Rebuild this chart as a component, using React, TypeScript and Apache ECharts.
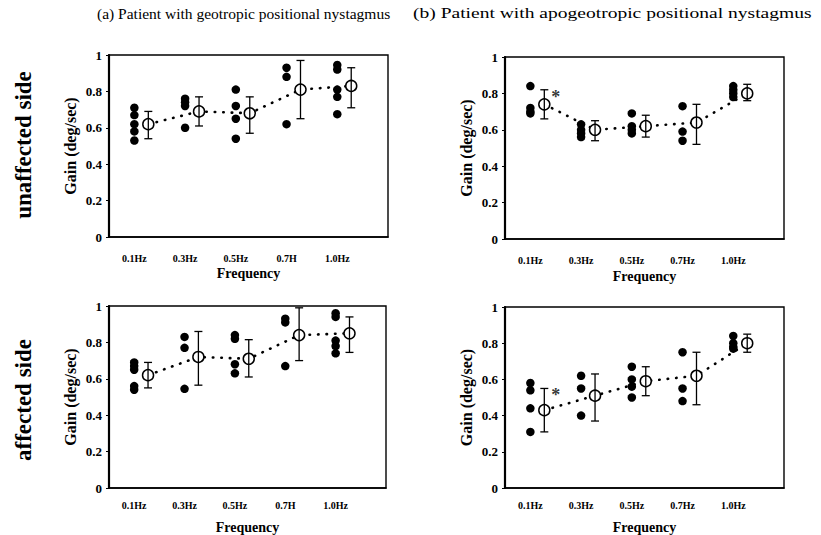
import React, { useEffect, useRef } from "react";
import * as echarts from "echarts";

// ---------- data ----------
const categoriesLeft = ["0.1Hz", "0.3Hz", "0.5Hz", "0.7H", "1.0Hz"];
const categoriesRight = ["0.1Hz", "0.3Hz", "0.5Hz", "0.7Hz", "1.0Hz"];

// (a) geotropic – unaffected side
const aUnaffectedDots = [
  [0.71, 0.67, 0.62, 0.58, 0.53],
  [0.76, 0.74, 0.72, 0.6],
  [0.81, 0.72, 0.65, 0.54],
  [0.93, 0.88, 0.62],
  [0.945, 0.92, 0.81, 0.77, 0.675],
];
const aUnaffectedMean = [0.62, 0.69, 0.68, 0.81, 0.83];
const aUnaffectedLow = [0.54, 0.61, 0.57, 0.65, 0.71];
const aUnaffectedHigh = [0.69, 0.77, 0.77, 0.97, 0.93];

// (b) apogeotropic – unaffected side
const bUnaffectedDots = [
  [0.84, 0.72, 0.7, 0.69],
  [0.63, 0.6, 0.58, 0.56],
  [0.69, 0.62, 0.6, 0.58],
  [0.73, 0.59, 0.54],
  [0.84, 0.82, 0.8, 0.78],
];
const bUnaffectedMean = [0.74, 0.6, 0.62, 0.64, 0.8];
const bUnaffectedLow = [0.66, 0.54, 0.56, 0.52, 0.76];
const bUnaffectedHigh = [0.82, 0.65, 0.68, 0.74, 0.85];
const bUnaffectedStar = [[0, 0.8]];

// (a) geotropic – affected side
const aAffectedDots = [
  [0.69, 0.67, 0.65, 0.56, 0.54],
  [0.83, 0.77, 0.545],
  [0.84, 0.82, 0.68, 0.63],
  [0.93, 0.91, 0.67],
  [0.96, 0.94, 0.81, 0.78, 0.74],
];
const aAffectedMean = [0.62, 0.72, 0.71, 0.84, 0.85];
const aAffectedLow = [0.55, 0.565, 0.61, 0.7, 0.745];
const aAffectedHigh = [0.69, 0.86, 0.815, 0.99, 0.94];

// (b) apogeotropic – affected side
const bAffectedDots = [
  [0.58, 0.54, 0.44, 0.31],
  [0.62, 0.55, 0.4],
  [0.67, 0.6, 0.56, 0.5],
  [0.75, 0.55, 0.48],
  [0.84, 0.8, 0.78, 0.77],
];
const bAffectedMean = [0.43, 0.51, 0.59, 0.62, 0.8];
const bAffectedLow = [0.31, 0.37, 0.51, 0.46, 0.75];
const bAffectedHigh = [0.55, 0.63, 0.67, 0.75, 0.85];
const bAffectedStar = [[0, 0.535]];

const titleA = "(a) Patient with geotropic positional nystagmus";
const titleB = "(b) Patient with apogeotropic positional nystagmus";
const rowTop = "unaffected side";
const rowBottom = "affected side";
const yName = "Gain (deg/sec)";
const xName = "Frequency";

// ---------- layout ----------
const FONT = '"Liberation Serif", "Times New Roman", serif';
const MEAN_OFFSET = 0.55;

type Panel = {
  cats: string[];
  dots: number[][];
  mean: number[];
  low: number[];
  high: number[];
  star?: number[][];
  grid: { left: number; top: number; width: number; height: number };
  labelMargin: number;
  nameGap: number;
};

const panels: Panel[] = [
  {
    cats: categoriesLeft, dots: aUnaffectedDots, mean: aUnaffectedMean,
    low: aUnaffectedLow, high: aUnaffectedHigh,
    grid: { left: 109, top: 55, width: 279, height: 182 }, labelMargin: 16, nameGap: 29,
  },
  {
    cats: categoriesRight, dots: bUnaffectedDots, mean: bUnaffectedMean,
    low: bUnaffectedLow, high: bUnaffectedHigh, star: bUnaffectedStar,
    grid: { left: 505, top: 57, width: 279, height: 182 }, labelMargin: 16, nameGap: 30,
  },
  {
    cats: categoriesLeft, dots: aAffectedDots, mean: aAffectedMean,
    low: aAffectedLow, high: aAffectedHigh,
    grid: { left: 109, top: 306, width: 277, height: 183 }, labelMargin: 12, nameGap: 32,
  },
  {
    cats: categoriesRight, dots: bAffectedDots, mean: bAffectedMean,
    low: bAffectedLow, high: bAffectedHigh, star: bAffectedStar,
    grid: { left: 505, top: 307, width: 279, height: 183 }, labelMargin: 12, nameGap: 32,
  },
];

const catX = (k: number) => 1 + 2 * k;

function buildOption() {
  const grid: any[] = [];
  const xAxis: any[] = [];
  const yAxis: any[] = [];
  const series: any[] = [];

  panels.forEach((p, i) => {
    grid.push({
      ...p.grid,
      show: true,
      borderColor: "#000",
      borderWidth: 1.4,
      backgroundColor: "transparent",
    });
    xAxis.push({
      type: "value",
      gridIndex: i,
      min: 0,
      max: 11,
      interval: 1,
      splitLine: { show: false },
      axisTick: { show: false },
      axisLine: { show: true, lineStyle: { color: "#000", width: 1.6 } },
      axisLabel: {
        margin: p.labelMargin,
        fontFamily: FONT,
        fontWeight: "bold",
        fontSize: 10,
        color: "#000",
        showMinLabel: true,
        showMaxLabel: true,
        formatter: (v: number) => {
          const k = (v - 1) / 2;
          return Number.isInteger(k) && k >= 0 && k < p.cats.length ? p.cats[k] : "";
        },
      },
      name: xName,
      nameLocation: "middle",
      nameGap: p.nameGap,
      nameTextStyle: { fontFamily: FONT, fontWeight: "bold", fontSize: 14, color: "#000" },
    });
    yAxis.push({
      type: "value",
      gridIndex: i,
      min: 0,
      max: 1,
      interval: 0.2,
      splitLine: { show: false },
      axisLine: { show: true, lineStyle: { color: "#000", width: 2.2 } },
      axisTick: { show: true, inside: false, length: 3, lineStyle: { color: "#000", width: 1 } },
      axisLabel: {
        margin: 7,
        fontFamily: FONT,
        fontWeight: "bold",
        fontSize: 13,
        color: "#000",
      },
      name: yName,
      nameLocation: "middle",
      nameGap: 31,
      nameRotate: 90,
      nameTextStyle: { fontFamily: FONT, fontWeight: "bold", fontSize: 16, color: "#000" },
    });

    // individual points
    const pts: number[][] = [];
    p.dots.forEach((arr, k) => arr.forEach((v) => pts.push([catX(k), v])));
    series.push({
      type: "scatter",
      xAxisIndex: i,
      yAxisIndex: i,
      data: pts,
      symbol: "circle",
      symbolSize: 8.5,
      itemStyle: { color: "#000", opacity: 1 },
      z: 2,
    });

    // mean dotted line with open circles
    series.push({
      type: "line",
      xAxisIndex: i,
      yAxisIndex: i,
      data: p.mean.map((v, k) => [catX(k) + MEAN_OFFSET, v]),
      symbol: "circle",
      symbolSize: 11,
      showAllSymbol: true,
      lineStyle: { color: "#000", width: 2.6, type: [0.5, 8], cap: "round" },
      itemStyle: { color: "#fff", borderColor: "#000", borderWidth: 1.5, opacity: 1 },
      z: 3,
    });

    // error bars
    series.push({
      type: "custom",
      xAxisIndex: i,
      yAxisIndex: i,
      data: p.mean.map((_, k) => [catX(k) + MEAN_OFFSET, p.low[k], p.high[k]]),
      encode: { x: 0, y: [1, 2] },
      z: 4,
      renderItem: (_params: any, api: any) => {
        const x = api.value(0);
        const lo = api.coord([x, api.value(1)]);
        const hi = api.coord([x, api.value(2)]);
        const cap = 4;
        const style = { stroke: "#000", lineWidth: 1.3 };
        return {
          type: "group",
          children: [
            { type: "line", shape: { x1: lo[0], y1: lo[1], x2: hi[0], y2: hi[1] }, style },
            { type: "line", shape: { x1: lo[0] - cap, y1: lo[1], x2: lo[0] + cap, y2: lo[1] }, style },
            { type: "line", shape: { x1: hi[0] - cap, y1: hi[1], x2: hi[0] + cap, y2: hi[1] }, style },
          ],
        };
      },
    });

    if (p.star) {
      series.push({
        type: "scatter",
        xAxisIndex: i,
        yAxisIndex: i,
        data: p.star.map(([k, v]) => [catX(k) + 1, v]),
        symbol: "circle",
        symbolSize: 1,
        itemStyle: { color: "transparent" },
        label: {
          show: true,
          position: "inside",
          formatter: "*",
          fontFamily: FONT,
          fontWeight: "bold",
          fontSize: 18,
          color: "#000",
          offset: [0, 4],
        },
        z: 5,
      });
    }
  });

  const graphic: any[] = [
    {
      type: "text",
      x: 97,
      y: 5,
      style: { text: titleA, fontFamily: FONT, fontSize: 15.5, fill: "#000" },
    },
    {
      type: "text",
      x: 413,
      y: 5,
      scaleX: 1.26,
      style: { text: titleB, fontFamily: FONT, fontSize: 15.5, fill: "#000" },
    },
    {
      type: "text",
      x: 23,
      y: 145,
      rotation: Math.PI / 2,
      style: {
        text: rowTop,
        fontFamily: FONT,
        fontWeight: "bold",
        fontSize: 23,
        fill: "#000",
        align: "center",
        verticalAlign: "middle",
      },
    },
    {
      type: "text",
      x: 23,
      y: 400,
      rotation: Math.PI / 2,
      style: {
        text: rowBottom,
        fontFamily: FONT,
        fontWeight: "bold",
        fontSize: 23,
        fill: "#000",
        align: "center",
        verticalAlign: "middle",
      },
    },
  ];

  return {
    animation: false,
    backgroundColor: "#fff",
    grid,
    xAxis,
    yAxis,
    series,
    graphic,
  };
}

export default function App() {
  const ref = useRef<HTMLDivElement>(null);
  useEffect(() => {
    if (!ref.current) return;
    const chart = echarts.init(ref.current, undefined, { renderer: "svg" });
    chart.setOption(buildOption() as any);
    return () => chart.dispose();
  }, []);
  return (
    <div
      ref={ref}
      style={{ position: "fixed", left: 0, top: 0, width: 821, height: 535, background: "#fff" }}
    />
  );
}
